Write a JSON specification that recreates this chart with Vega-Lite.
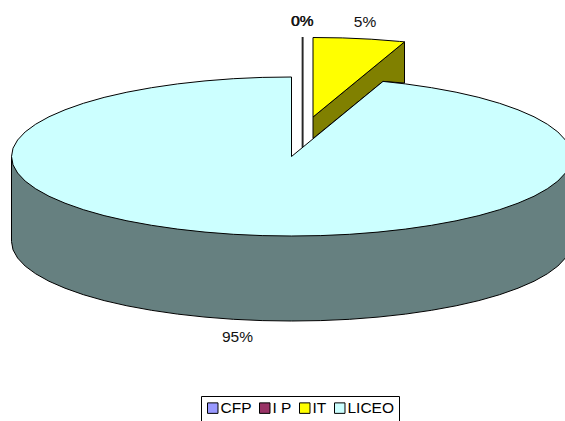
{"$schema":"https://vega.github.io/schema/vega-lite/v6.json","width":565,"height":421,"padding":0,"autosize":{"type":"none"},"background":"white","view":{"stroke":null},
"datasets":{
"itSide":[{"s":"IT","i":1,"x":313,"y":117},{"s":"IT","i":2,"x":404.5,"y":41.9},{"s":"IT","i":3,"x":404.5,"y":83},{"s":"IT","i":4,"x":383,"y":81.4},{"s":"IT","i":5,"x":313,"y":138.5},{"s":"IT","i":6,"x":313,"y":117}],
"itTop":[{"s":"IT","i":1,"x":313,"y":117},{"s":"IT","i":2,"x":313,"y":37.5},{"s":"IT","i":3,"x":342.3,"y":37.9},{"s":"IT","i":4,"x":371.2,"y":39.2},{"s":"IT","i":5,"x":399.5,"y":41.4},{"s":"IT","i":6,"x":404.5,"y":41.9},{"s":"IT","i":7,"x":313,"y":117}],
"zero":[{"s":"CFP","i":1,"x":302.2,"y":37},{"s":"CFP","i":2,"x":302.2,"y":147.5},{"s":"I P","i":1,"x":303,"y":37},{"s":"I P","i":2,"x":303,"y":147.5}],
"liceoSide":[{"s":"LICEO","i":1,"x":11.5,"y":156.5},{"s":"LICEO","i":2,"x":11.5,"y":241.5},{"s":"LICEO","i":3,"x":13,"y":249.8},{"s":"LICEO","i":4,"x":17.6,"y":258},{"s":"LICEO","i":5,"x":25.2,"y":266.1},{"s":"LICEO","i":6,"x":35.7,"y":273.8},{"s":"LICEO","i":7,"x":49,"y":281.25},{"s":"LICEO","i":8,"x":65,"y":288.2},{"s":"LICEO","i":9,"x":83.4,"y":294.7},{"s":"LICEO","i":10,"x":104.1,"y":300.6},{"s":"LICEO","i":11,"x":126.9,"y":305.8},{"s":"LICEO","i":12,"x":151.5,"y":310.3},{"s":"LICEO","i":13,"x":177.6,"y":314.1},{"s":"LICEO","i":14,"x":205,"y":317.1},{"s":"LICEO","i":15,"x":233.3,"y":319.3},{"s":"LICEO","i":16,"x":262.2,"y":320.6},{"s":"LICEO","i":17,"x":291.5,"y":321},{"s":"LICEO","i":18,"x":320.8,"y":320.6},{"s":"LICEO","i":19,"x":349.7,"y":319.3},{"s":"LICEO","i":20,"x":378,"y":317.1},{"s":"LICEO","i":21,"x":405.4,"y":314.1},{"s":"LICEO","i":22,"x":431.5,"y":310.3},{"s":"LICEO","i":23,"x":456.1,"y":305.8},{"s":"LICEO","i":24,"x":478.9,"y":300.6},{"s":"LICEO","i":25,"x":499.6,"y":294.7},{"s":"LICEO","i":26,"x":518,"y":288.2},{"s":"LICEO","i":27,"x":534,"y":281.25},{"s":"LICEO","i":28,"x":547.3,"y":273.8},{"s":"LICEO","i":29,"x":557.8,"y":266.1},{"s":"LICEO","i":30,"x":565.4,"y":258},{"s":"LICEO","i":31,"x":570,"y":249.8},{"s":"LICEO","i":32,"x":571.5,"y":241.5},{"s":"LICEO","i":33,"x":571.5,"y":156.5}],
"liceoTop":[{"s":"LICEO","i":1,"x":291.5,"y":156.5},{"s":"LICEO","i":2,"x":291.5,"y":77},{"s":"LICEO","i":3,"x":262.2,"y":77.4},{"s":"LICEO","i":4,"x":233.3,"y":78.7},{"s":"LICEO","i":5,"x":205,"y":80.9},{"s":"LICEO","i":6,"x":177.6,"y":83.9},{"s":"LICEO","i":7,"x":151.5,"y":87.7},{"s":"LICEO","i":8,"x":126.9,"y":92.2},{"s":"LICEO","i":9,"x":104.1,"y":97.4},{"s":"LICEO","i":10,"x":83.4,"y":103.3},{"s":"LICEO","i":11,"x":65,"y":109.8},{"s":"LICEO","i":12,"x":49,"y":116.75},{"s":"LICEO","i":13,"x":35.7,"y":124.2},{"s":"LICEO","i":14,"x":25.2,"y":131.9},{"s":"LICEO","i":15,"x":17.6,"y":140},{"s":"LICEO","i":16,"x":13,"y":148.2},{"s":"LICEO","i":17,"x":11.5,"y":156.5},{"s":"LICEO","i":18,"x":13,"y":164.8},{"s":"LICEO","i":19,"x":17.6,"y":173},{"s":"LICEO","i":20,"x":25.2,"y":181.1},{"s":"LICEO","i":21,"x":35.7,"y":188.8},{"s":"LICEO","i":22,"x":49,"y":196.25},{"s":"LICEO","i":23,"x":65,"y":203.2},{"s":"LICEO","i":24,"x":83.4,"y":209.7},{"s":"LICEO","i":25,"x":104.1,"y":215.6},{"s":"LICEO","i":26,"x":126.9,"y":220.8},{"s":"LICEO","i":27,"x":151.5,"y":225.3},{"s":"LICEO","i":28,"x":177.6,"y":229.1},{"s":"LICEO","i":29,"x":205,"y":232.1},{"s":"LICEO","i":30,"x":233.3,"y":234.3},{"s":"LICEO","i":31,"x":262.2,"y":235.6},{"s":"LICEO","i":32,"x":291.5,"y":236},{"s":"LICEO","i":33,"x":320.8,"y":235.6},{"s":"LICEO","i":34,"x":349.7,"y":234.3},{"s":"LICEO","i":35,"x":378,"y":232.1},{"s":"LICEO","i":36,"x":405.4,"y":229.1},{"s":"LICEO","i":37,"x":431.5,"y":225.3},{"s":"LICEO","i":38,"x":456.1,"y":220.8},{"s":"LICEO","i":39,"x":478.9,"y":215.6},{"s":"LICEO","i":40,"x":499.6,"y":209.7},{"s":"LICEO","i":41,"x":518,"y":203.2},{"s":"LICEO","i":42,"x":534,"y":196.25},{"s":"LICEO","i":43,"x":547.3,"y":188.8},{"s":"LICEO","i":44,"x":557.8,"y":181.1},{"s":"LICEO","i":45,"x":565.4,"y":173},{"s":"LICEO","i":46,"x":570,"y":164.8},{"s":"LICEO","i":47,"x":571.5,"y":156.5},{"s":"LICEO","i":48,"x":570,"y":148.2},{"s":"LICEO","i":49,"x":565.4,"y":140},{"s":"LICEO","i":50,"x":557.8,"y":131.9},{"s":"LICEO","i":51,"x":547.3,"y":124.2},{"s":"LICEO","i":52,"x":534,"y":116.75},{"s":"LICEO","i":53,"x":518,"y":109.8},{"s":"LICEO","i":54,"x":499.6,"y":103.3},{"s":"LICEO","i":55,"x":478.9,"y":97.4},{"s":"LICEO","i":56,"x":456.1,"y":92.2},{"s":"LICEO","i":57,"x":431.5,"y":87.7},{"s":"LICEO","i":58,"x":405.4,"y":83.9},{"s":"LICEO","i":59,"x":383,"y":81.4},{"s":"LICEO","i":60,"x":291.5,"y":156.5}],
"labels":[{"s":"CFP","t":"0%","x":302,"y":21},{"s":"I P","t":"0%","x":302.6,"y":21},{"s":"IT","t":"5%","x":365,"y":21.5},{"s":"LICEO","t":"95%","x":237.5,"y":337}]
},
"encoding":{
"x":{"field":"x","type":"quantitative","scale":{"domain":[0,565]},"axis":null},
"y":{"field":"y","type":"quantitative","scale":{"domain":[421,0]},"axis":null}
},
"layer":[
{"data":{"name":"itSide"},"mark":{"type":"line","clip":true,"fill":"#808000","stroke":"black","strokeWidth":1},"encoding":{"order":{"field":"i"}}},
{"data":{"name":"itTop"},"mark":{"type":"line","clip":true,"fill":"#FFFF00","stroke":"black","strokeWidth":1},"encoding":{"order":{"field":"i"}}},
{"data":{"name":"zero"},"mark":{"type":"line","clip":true,"stroke":"black","strokeWidth":1},"encoding":{"order":{"field":"i"},"detail":{"field":"s"}}},
{"data":{"name":"liceoSide"},"mark":{"type":"line","clip":true,"fill":"#668080","stroke":"black","strokeWidth":1},"encoding":{"order":{"field":"i"}}},
{"data":{"name":"liceoTop"},"mark":{"type":"line","clip":true,"stroke":"black","strokeWidth":1},"encoding":{"order":{"field":"i"},
"fill":{"field":"s","type":"nominal","scale":{"domain":["CFP","I P","IT","LICEO"],"range":["#9999FF","#993366","#FFFF00","#CCFFFF"]},
"legend":{"title":null,"orient":"none","legendX":201,"legendY":396,"direction":"horizontal","columns":4,"symbolType":"square","symbolSize":110,"symbolStrokeColor":"black","symbolStrokeWidth":1,"symbolOpacity":1,"labelFont":"Liberation Sans","labelFontSize":15.5,"labelColor":"black","labelOffset":0,"columnPadding":5,"padding":4,"strokeColor":"black","fillColor":"white"}}}},
{"data":{"name":"labels"},"mark":{"type":"text","font":"Liberation Sans","fontSize":15.5,"color":"#111","align":"center","baseline":"middle"},"encoding":{"text":{"field":"t"},"detail":{"field":"s"}}}
]}
